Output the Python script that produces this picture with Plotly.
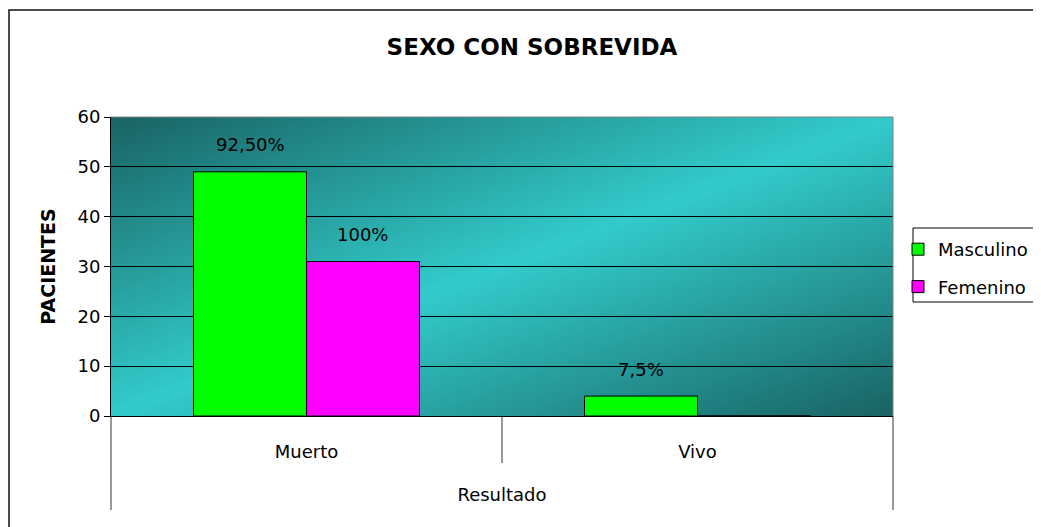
import base64, struct, zlib
import numpy as np
import plotly.graph_objects as go

# ---- data ----
categories = ["Muerto", "Vivo"]
masculino = [49, 4]
femenino = [31, 0]
masculino_labels = ["92,50%", "7,5%"]
femenino_labels = ["100%", ""]
y_ticks = [0, 10, 20, 30, 40, 50, 60]

# ---- layout geometry (page pixels; the page body has an 8px margin) ----
OFF = 8
PAGE_W, PAGE_H = 1041, 527
W, H = PAGE_W - OFF, PAGE_H - OFF
L, R, T, B = 111, 893, 117, 416   # plot area in page pixels
FONT = "DejaVu Sans"


def px(xp):
    return (xp - L) / (R - L)


def py(yp):
    return (B - yp) / (B - T)


def gradient_png(w, h):
    u = np.linspace(0, 1, w)[None, :]
    v = np.linspace(0, 1, h)[:, None]
    t = np.abs(u + v - 1)
    dark = np.array([26, 100, 100], dtype=float)
    light = np.array([51, 204, 204], dtype=float)
    img = light + (dark - light) * t[..., None]
    img = np.clip(img, 0, 255).astype(np.uint8)
    raw = b"".join(b"\x00" + img[r].tobytes() for r in range(h))

    def chunk(tag, data):
        c = tag + data
        return struct.pack(">I", len(data)) + c + struct.pack(">I", zlib.crc32(c) & 0xFFFFFFFF)

    png = (b"\x89PNG\r\n\x1a\n"
           + chunk(b"IHDR", struct.pack(">IIBBBBB", w, h, 8, 2, 0, 0, 0))
           + chunk(b"IDAT", zlib.compress(raw, 9))
           + chunk(b"IEND", b""))
    return "data:image/png;base64," + base64.b64encode(png).decode()


fig = go.Figure()
fig.add_trace(go.Bar(
    name="Masculino", x=categories, y=masculino,
    marker=dict(color="#00FF00", line=dict(color="black", width=1)),
    legendgroup="m",
))
fig.add_trace(go.Bar(
    name="Femenino", x=categories, y=femenino,
    marker=dict(color="#FF00FF", line=dict(color="black", width=1)),
    legendgroup="f",
))

bargap = 0.422
bar_px = (R - L) / len(categories) * (1 - bargap) / 2
annotations = []
for labels, vals, shift in [(masculino_labels, masculino, -bar_px / 2),
                            (femenino_labels, femenino, bar_px / 2)]:
    for c, v, lab in zip(categories, vals, labels):
        if lab:
            annotations.append(dict(
                x=c, y=v, xref="x", yref="y", text=lab, showarrow=False,
                xshift=shift, yshift=27, yanchor="middle",
                font=dict(family=FONT, size=18, color="black"),
            ))

line_dark = dict(color="#333333", width=1)
shapes = [
    # plot area gray border top/right
    dict(type="line", xref="paper", yref="paper", x0=0, x1=1, y0=1, y1=1,
         line=dict(color="#808080", width=1)),
    dict(type="line", xref="paper", yref="paper", x0=1, x1=1, y0=0, y1=1,
         line=dict(color="#808080", width=1)),
    # category dividers
    dict(type="line", xref="paper", yref="paper", x0=0, x1=0, y0=0, y1=py(510), line=line_dark),
    dict(type="line", xref="paper", yref="paper", x0=0.5, x1=0.5, y0=0, y1=py(463), line=line_dark),
    dict(type="line", xref="paper", yref="paper", x0=1, x1=1, y0=0, y1=py(510), line=line_dark),
    # outer chart border
    dict(type="rect", xref="paper", yref="paper", x0=px(9), x1=px(1070), y0=py(570), y1=py(10),
         line=dict(color="#111111", width=1.5)),
    # legend box
    dict(type="rect", xref="paper", yref="paper", x0=px(913), x1=px(1080), y0=py(302), y1=py(228),
         line=dict(color="black", width=1)),
]

fig.update_layout(
    width=W, height=H,
    margin=dict(l=L - OFF, r=PAGE_W - R, t=T - OFF, b=PAGE_H - B, autoexpand=False),
    paper_bgcolor="white",
    plot_bgcolor="rgba(0,0,0,0)",
    barmode="group", bargap=bargap, bargroupgap=0,
    font=dict(family=FONT, size=18, color="black"),
    title=dict(text="<b>SEXO CON SOBREVIDA</b>", x=(532 - OFF) / W, xanchor="center",
               y=1 - (47 - OFF) / H, yanchor="middle", yref="container",
               font=dict(family=FONT, size=23, color="black")),
    images=[dict(source=gradient_png(391, 150), xref="paper", yref="paper",
                 x=0, y=1, sizex=1, sizey=1, xanchor="left", yanchor="top",
                 sizing="stretch", layer="below")],
    legend=dict(x=px(898), y=py(231), xanchor="left", yanchor="top",
                bgcolor="rgba(0,0,0,0)", borderwidth=0, traceorder="grouped",
                tracegroupgap=11, font=dict(family=FONT, size=18, color="black")),
    shapes=shapes,
    annotations=annotations,
    showlegend=True,
)
fig.update_yaxes(
    range=[0, 60], tickvals=y_ticks, ticks="outside", ticklen=6, tickcolor="black",
    showline=True, linecolor="black", linewidth=1,
    showgrid=True, gridcolor="black", gridwidth=1, zeroline=False,
    tickfont=dict(family=FONT, size=18, color="black"),
    title=dict(text="<b>PACIENTES</b>", standoff=16,
               font=dict(family=FONT, size=19, color="black")),
)
fig.update_xaxes(
    ticks="", showline=True, linecolor="black", linewidth=1,
    ticklabelstandoff=19,
    tickfont=dict(family=FONT, size=18, color="black"),
    title=dict(text="Resultado", standoff=27, font=dict(family=FONT, size=18, color="black")),
)

fig.write_html("out.html")
